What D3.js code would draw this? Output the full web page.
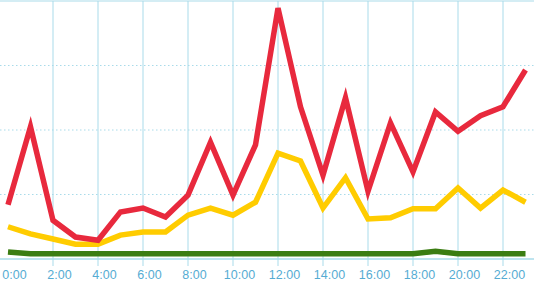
<!DOCTYPE html>
<html>
<head>
<meta charset="utf-8">
<script src="https://cdn.jsdelivr.net/npm/d3@7"></script>
<style>
  body { margin: 0; background: #fff; }
  svg { display: block; }
</style>
</head>
<body>
<svg id="chart" width="534" height="288"></svg>
<script>
// hours of the day, one point per hour
var hours = d3.range(0, 24)
var tickHours = [0, 2, 4, 6, 8, 10, 12, 14, 16, 18, 20, 22]
var tickLabels = ['0:00', '2:00', '4:00', '6:00', '8:00', '10:00', '12:00', '14:00', '16:00', '18:00', '20:00', '22:00']
var yTicks = [100, 200, 300]

var redValues = [84, 205, 60, 34, 29, 73, 79, 65, 99, 181, 99, 177, 389, 236, 130, 250, 105, 211, 135, 228, 198, 222, 236, 293]
var yellowValues = [50, 39, 31, 23, 23, 37, 42, 42, 68, 79, 68, 88, 164, 152, 79, 126, 62, 64, 78, 78, 110, 79, 107, 88]
var greenValues = [11, 8, 8, 8, 8, 8, 8, 8, 8, 8, 8, 8, 8, 8, 8, 8, 8, 8, 8, 12, 8, 8, 8, 8]

var series = [
	{name: 'green', values: greenValues, color: '#3b7d12'},
	{name: 'yellow', values: yellowValues, color: '#ffcc00'},
	{name: 'red', values: redValues, color: '#e8293d'}
]

var svg = d3.select('#chart'),
	width = +svg.attr('width'),
	gridColor = '#a9dbea'

var x = d3.scaleLinear().domain([0, 23]).range([8, 525.5])
var y = d3.scaleLinear().domain([0, 400]).range([259, 1])

// top border
svg.append('line')
	.attr('x1', 0).attr('x2', width)
	.attr('y1', y(400)).attr('y2', y(400))
	.attr('stroke', gridColor).attr('stroke-width', 1.2)

// dotted horizontal grid
svg.append('g').selectAll('line').data(yTicks)
	.enter().append('line')
	.attr('x1', 0).attr('x2', width)
	.attr('y1', function(d) { return y(d) }).attr('y2', function(d) { return y(d) })
	.attr('stroke', gridColor).attr('stroke-width', 1.2)
	.attr('stroke-dasharray', '1.5,2.5')

// vertical grid (no line at 0:00)
svg.append('g').selectAll('line').data(tickHours.slice(1))
	.enter().append('line')
	.attr('x1', function(d) { return x(d) }).attr('x2', function(d) { return x(d) })
	.attr('y1', y(400)).attr('y2', 266)
	.attr('stroke', gridColor).attr('stroke-width', 1)

// bottom axis
var axis = svg.append('g')
	.attr('transform', 'translate(0,' + y(0) + ')')
	.call(d3.axisBottom(x).tickValues(tickHours)
		.tickFormat(function(d, i) { return tickLabels[i] })
		.tickSize(0).tickPadding(11))
axis.select('.domain').remove()
axis.append('line')
	.attr('x1', 0).attr('x2', width)
	.attr('stroke', gridColor).attr('stroke-width', 1.4)
axis.selectAll('text')
	.attr('dx', 6)
	.attr('fill', '#55acd3')
	.style('font-family', 'Liberation Sans, Arial, sans-serif')
	.style('font-size', '12.5px')

// the lines
var line = d3.line()
	.x(function(d, i) { return x(hours[i]) })
	.y(function(d) { return y(d) })

svg.append('g').selectAll('path').data(series)
	.enter().append('path')
	.attr('d', function(s) { return line(s.values) })
	.attr('fill', 'none')
	.attr('stroke', function(s) { return s.color })
	.attr('stroke-width', 5.5)
	.attr('stroke-linejoin', 'miter')
	.attr('stroke-linecap', 'butt')
</script>
</body>
</html>
